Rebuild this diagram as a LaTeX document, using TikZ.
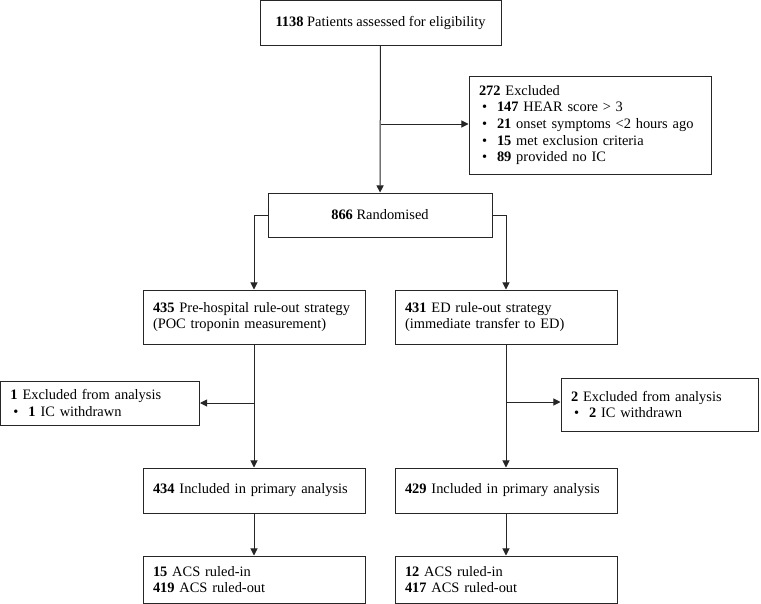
\documentclass[tikz,border=0pt]{standalone}
\usepackage{fontspec}
\setmainfont{Liberation Serif}
\usetikzlibrary{arrows.meta}
\tikzset{
  box/.style={draw=black!85, line width=0.7pt, inner xsep=7pt, inner ysep=2pt, font=\fontsize{10.1}{11.7}\selectfont},
  lbox/.style={box, align=left},
  cbox/.style={box, align=center},
  arr/.style={draw=black!85, line width=0.7pt, -{Triangle[length=5pt,width=5pt]}},
  ln/.style={draw=black!85, line width=0.7pt}
}
\newcommand{\itm}[2]{\makebox[12.6pt][l]{\hspace{2.1pt}\textbullet}\textbf{#1} #2}
\begin{document}
\begin{tikzpicture}[x=0.7pt, y=-0.7pt]
\useasboundingbox (0,0) rectangle (761,604);
\node[cbox, minimum width=168.7pt, minimum height=31.5pt] (screen) at (380.5,23) {\textbf{1138} Patients assessed for eligibility};
\node[lbox, text width=155.4pt, minimum height=68.6pt] (excl) at (590,125) {\textbf{272} Excluded\\
\itm{147}{HEAR score > 3}\\
\itm{21}{onset symptoms <2 hours ago}\\
\itm{15}{met exclusion criteria}\\
\itm{89}{provided no IC}};
\node[cbox, minimum width=156.8pt, minimum height=30.8pt] (rand) at (380,215) {\textbf{866} Randomised};
\node[lbox, text width=141.4pt, minimum height=37.8pt] (prehosp) at (254,317) {\textbf{435} Pre-hospital rule-out strategy\\(POC troponin measurement)};
\node[lbox, text width=141.4pt, minimum height=37.8pt] (edstrat) at (506,317) {\textbf{431} ED rule-out strategy\\(immediate transfer to ED)};
\node[lbox, text width=125.3pt, minimum height=30.8pt] (exclA) at (100,403) {\textbf{1} Excluded from analysis\\\itm{1}{IC withdrawn}};
\node[lbox, text width=123.9pt, minimum height=37.1pt] (exclB) at (659.5,404.5) {\textbf{2} Excluded from analysis\\\itm{2}{IC withdrawn}};
\node[lbox, text width=141.4pt, minimum height=31.5pt] (inclA) at (254,490.5) {\textbf{434} Included in primary analysis};
\node[lbox, text width=141.4pt, minimum height=31.5pt] (inclB) at (506,490.5) {\textbf{429} Included in primary analysis};
\node[lbox, text width=141.4pt, minimum height=32.9pt] (resA) at (254,579.5) {\textbf{15} ACS ruled-in\\\textbf{419} ACS ruled-out};
\node[lbox, text width=141.4pt, minimum height=32.9pt] (resB) at (506,579.5) {\textbf{12} ACS ruled-in\\\textbf{417} ACS ruled-out};
% screening
\coordinate (j0) at (380.5,124);
\draw[arr](screen) -- (rand);
\draw[arr](j0) -- (j0 -| excl.west);
% randomisation
\draw[arr](rand.west) -| (prehosp.north);
\draw[arr](rand.east) -| (edstrat.north);
% left arm
\coordinate (j1) at (254,403);
\draw[arr](prehosp) -- (inclA);
\draw[arr](j1) -- (exclA.east);
\draw[arr](inclA) -- (resA);
% right arm
\coordinate (j2) at (506,402);
\draw[arr](edstrat) -- (inclB);
\draw[arr](j2) -- (j2 -| exclB.west);
\draw[arr](inclB) -- (resB);
\end{tikzpicture}
\end{document}
